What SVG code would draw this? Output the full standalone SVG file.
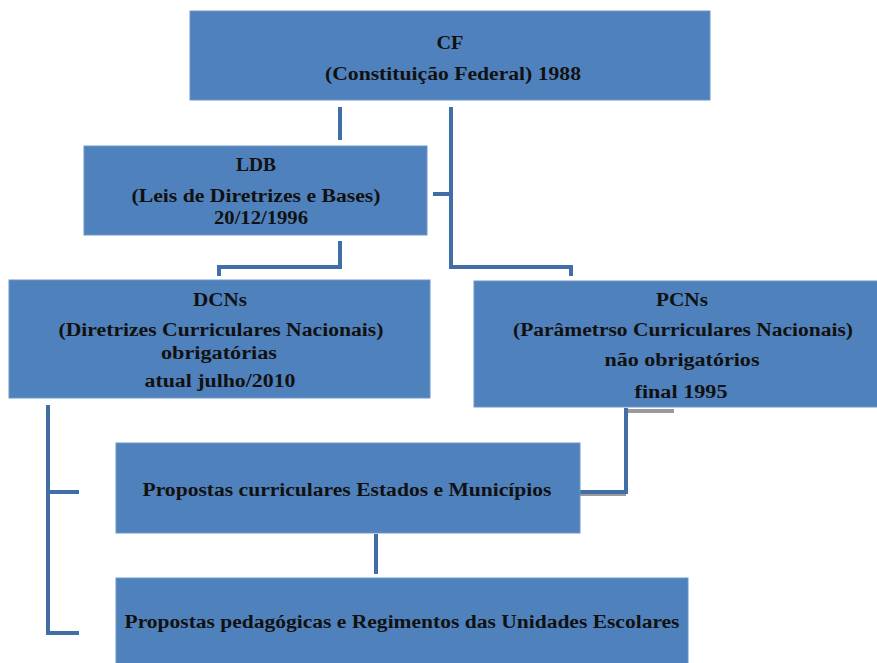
<svg xmlns="http://www.w3.org/2000/svg" width="877" height="663" viewBox="0 0 877 663">
<style>
.box{fill:#4F81BD;stroke:#6D96C9;stroke-width:1}
.t{font-family:"Liberation Serif","Times New Roman",serif;font-size:18px;font-weight:bold;fill:#111;text-anchor:middle}
.c{fill:none;stroke:#416EA6;stroke-width:4;stroke-linejoin:miter}
.s{fill:none;stroke:#9A9A9A;stroke-width:4}
</style>
<rect width="877" height="663" fill="#ffffff"/>
<g id="connectors">
<path class="c" d="M340 107V140"/>
<path class="c" d="M451 107V267H571V276"/>
<path class="c" d="M433 194H451"/>
<path class="c" d="M340 241V267H219V276"/>
<path class="s" d="M628 411H674"/>
<path class="s" d="M580 494H626"/>
<path class="c" d="M626 408V492H580"/>
<path class="c" d="M48 405V633H79"/>
<path class="c" d="M48 492H79"/>
<path class="c" d="M376 534V574"/>
</g>
<g id="cf">
<rect class="box" x="190" y="11" width="520" height="89"/>
<text class="t" x="450" y="49" textLength="27" lengthAdjust="spacingAndGlyphs">CF</text>
<text class="t" x="453" y="80" textLength="256" lengthAdjust="spacingAndGlyphs">(Constituição Federal) 1988</text>
</g>
<g id="ldb">
<rect class="box" x="84" y="146" width="343" height="89"/>
<text class="t" x="256" y="171" textLength="40" lengthAdjust="spacingAndGlyphs">LDB</text>
<text class="t" x="256" y="202" textLength="249" lengthAdjust="spacingAndGlyphs">(Leis de Diretrizes e Bases)</text>
<text class="t" x="261" y="224" textLength="94" lengthAdjust="spacingAndGlyphs">20/12/1996</text>
</g>
<g id="dcns">
<rect class="box" x="9" y="280" width="421" height="118"/>
<text class="t" x="220" y="306" textLength="54" lengthAdjust="spacingAndGlyphs">DCNs</text>
<text class="t" x="221" y="336" textLength="325" lengthAdjust="spacingAndGlyphs">(Diretrizes Curriculares Nacionais)</text>
<text class="t" x="219" y="359" textLength="116" lengthAdjust="spacingAndGlyphs">obrigatórias</text>
<text class="t" x="220" y="387" textLength="151" lengthAdjust="spacingAndGlyphs">atual julho/2010</text>
</g>
<g id="pcns">
<rect class="box" x="474" y="281" width="404" height="126"/>
<text class="t" x="682" y="306" textLength="52" lengthAdjust="spacingAndGlyphs">PCNs</text>
<text class="t" x="683" y="336" textLength="340" lengthAdjust="spacingAndGlyphs">(Parâmetrso Curriculares Nacionais)</text>
<text class="t" x="682" y="366" textLength="155" lengthAdjust="spacingAndGlyphs">não obrigatórios</text>
<text class="t" x="681" y="398" textLength="93" lengthAdjust="spacingAndGlyphs">final 1995</text>
</g>
<g id="propostas-curriculares">
<rect class="box" x="116" y="443" width="464" height="90"/>
<text class="t" x="347" y="496" textLength="409" lengthAdjust="spacingAndGlyphs">Propostas curriculares Estados e Municípios</text>
</g>
<g id="propostas-pedagogicas">
<rect class="box" x="116" y="578" width="572" height="90"/>
<text class="t" x="402" y="628" textLength="555" lengthAdjust="spacingAndGlyphs">Propostas pedagógicas e Regimentos das Unidades Escolares</text>
</g>
</svg>
